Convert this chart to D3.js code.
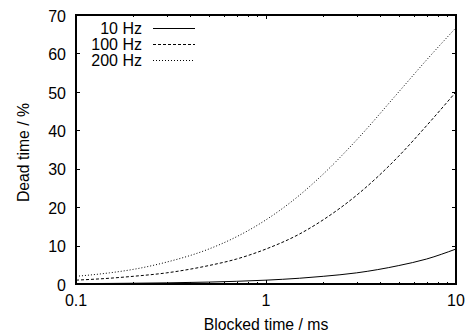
<!DOCTYPE html>
<html>
<head>
<meta charset="utf-8">
<script src="https://cdn.jsdelivr.net/npm/d3@7"></script>
<style>
  html, body { margin: 0; padding: 0; background: #fff; }
  svg { display: block; font-family: "Liberation Sans", Arial, Helvetica, sans-serif; }
</style>
</head>
<body>
<svg id="chart" width="473" height="334"></svg>
<script>
// Blocked time samples (ms)
const blockedTime = [0.1, 0.15, 0.2, 0.3, 0.5, 0.7, 1, 1.5, 2, 3, 5, 7, 10];
// Dead time (%) for each event rate
const dead10Hz  = [0.1, 0.15, 0.2, 0.3, 0.5, 0.7, 1.0, 1.5, 2.0, 2.9, 4.8, 6.5, 9.1];
const dead100Hz = [1.0, 1.5, 2.0, 2.9, 4.8, 6.5, 9.1, 13.0, 16.7, 23.1, 33.3, 41.2, 50.0];
const dead200Hz = [2.0, 2.9, 3.8, 5.7, 9.1, 12.3, 16.7, 23.1, 28.6, 37.5, 50.0, 58.3, 66.7];
const seriesNames = ["10 Hz", "100 Hz", "200 Hz"];
const xTickValues = [0.1, 1, 10];
const xTickLabels = ["0.1", "1", "10"];
const yTickValues = [0, 10, 20, 30, 40, 50, 60, 70];

const series = [
  { name: seriesNames[0], values: dead10Hz,  dash: null },
  { name: seriesNames[1], values: dead100Hz, dash: "3,2" },
  { name: seriesNames[2], values: dead200Hz, dash: "1,2" }
];

const svg = d3.select("#chart");
const margin = { left: 76, top: 15, right: 17, bottom: 50 };
const W = 473, H = 334;
const x0 = margin.left, x1 = W - margin.right;
const y0 = H - margin.bottom, y1 = margin.top;

const x = d3.scaleLog().domain([0.1, 10]).range([x0, x1]);
const y = d3.scaleLinear().domain([0, 70]).range([y0, y1]);

// Minor log ticks (2..9 per decade)
const minorX = x.ticks(20).filter(v => !xTickValues.some(t => Math.abs(t - v) < 1e-9));

const g = svg.append("g");

// Inward ticks on all four sides
const tickG = g.append("g").attr("stroke", "#000").attr("stroke-width", 1);
yTickValues.forEach(v => {
  const py = Math.round(y(v)) + 0.5;
  tickG.append("line").attr("x1", x0).attr("x2", x0 + 4).attr("y1", py).attr("y2", py);
  tickG.append("line").attr("x1", x1).attr("x2", x1 - 4).attr("y1", py).attr("y2", py);
});
xTickValues.forEach(v => {
  const px = Math.round(x(v)) + 0.5;
  tickG.append("line").attr("x1", px).attr("x2", px).attr("y1", y0).attr("y2", y0 - 4);
  tickG.append("line").attr("x1", px).attr("x2", px).attr("y1", y1).attr("y2", y1 + 4);
});
minorX.forEach(v => {
  const px = Math.round(x(v)) + 0.5;
  tickG.append("line").attr("x1", px).attr("x2", px).attr("y1", y0).attr("y2", y0 - 2);
  tickG.append("line").attr("x1", px).attr("x2", px).attr("y1", y1).attr("y2", y1 + 2);
});

// Tick labels
const labelSize = 16;
yTickValues.forEach(v => {
  g.append("text").attr("x", x0 - 10).attr("y", y(v) + 1).attr("dy", "0.36em")
    .attr("text-anchor", "end").attr("font-size", labelSize).attr("fill", "#000")
    .text(v);
});
xTickValues.forEach((v, i) => {
  g.append("text").attr("x", x(v)).attr("y", 305.5)
    .attr("text-anchor", "middle").attr("font-size", labelSize).attr("fill", "#000")
    .text(xTickLabels[i]);
});

// Axis titles
g.append("text").attr("x", (x0 + x1) / 2).attr("y", 329.5)
  .attr("text-anchor", "middle").attr("font-size", 15.8).attr("fill", "#000")
  .text("Blocked time / ms");
g.append("text")
  .attr("transform", `translate(29,${(y0 + y1) / 2 + 3}) rotate(-90)`)
  .attr("text-anchor", "middle").attr("font-size", 15.8).attr("fill", "#000")
  .text("Dead time / %");

// Curves
svg.append("clipPath").attr("id", "plotClip")
  .append("rect").attr("x", x0).attr("y", y1).attr("width", x1 - x0).attr("height", y0 - y1);

const line = d3.line()
  .x(d => x(d[0]))
  .y(d => y(d[1]))
  .curve(d3.curveMonotoneX);

series.forEach(s => {
  const pts = blockedTime.map((t, i) => [t, s.values[i]]);
  g.append("path")
    .attr("d", line(pts))
    .attr("fill", "none")
    .attr("stroke", "#000")
    .attr("stroke-width", 1)
    .attr("stroke-dasharray", s.dash)
    .attr("clip-path", "url(#plotClip)");
});

// Legend
const legY = [28, 44, 60];
series.forEach((s, i) => {
  g.append("text").attr("x", 142).attr("y", legY[i]).attr("dy", "0.36em")
    .attr("text-anchor", "end").attr("font-size", labelSize).attr("fill", "#000")
    .text(s.name);
  g.append("line").attr("x1", 153).attr("x2", 195)
    .attr("y1", legY[i] + 0.5).attr("y2", legY[i] + 0.5)
    .attr("stroke", "#000").attr("stroke-width", 1)
    .attr("stroke-dasharray", s.dash);
});

// Frame
g.append("rect")
  .attr("x", x0).attr("y", y1).attr("width", x1 - x0).attr("height", y0 - y1)
  .attr("fill", "none").attr("stroke", "#000").attr("stroke-width", 2);
</script>
</body>
</html>
